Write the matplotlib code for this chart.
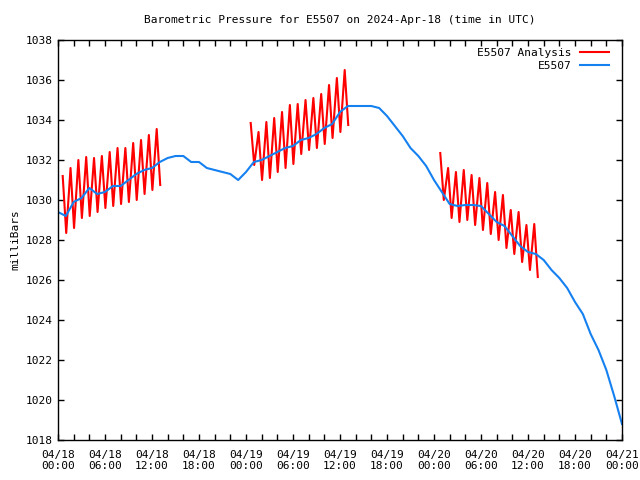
from datetime import datetime, timedelta

import matplotlib
matplotlib.use("Agg")
import matplotlib.pyplot as plt
import matplotlib.dates as mdates

START = datetime(2024, 4, 18, 0, 0)

# observed pressure, hourly from 04/18 00:00 to 04/21 00:00
obs_hours = list(range(73))
obs_values = [
    1029.4, 1029.2, 1029.9, 1030.1, 1030.6, 1030.3, 1030.4, 1030.7, 1030.7, 1031.0,
    1031.3, 1031.5, 1031.6, 1031.9, 1032.1, 1032.2, 1032.2, 1031.9, 1031.9, 1031.6,
    1031.5, 1031.4, 1031.3, 1031.0, 1031.4, 1031.9, 1032.0, 1032.2, 1032.4, 1032.6,
    1032.7, 1033.0, 1033.1, 1033.3, 1033.6, 1033.8, 1034.4, 1034.7, 1034.7, 1034.7,
    1034.7, 1034.6, 1034.2, 1033.7, 1033.2, 1032.6, 1032.2, 1031.7, 1031.0, 1030.4,
    1029.8, 1029.7, 1029.75, 1029.75, 1029.7, 1029.3, 1028.9, 1028.7, 1028.2, 1027.7,
    1027.4, 1027.3, 1027.0, 1026.5, 1026.1, 1025.6, 1024.9, 1024.3, 1023.3, 1022.5,
    1021.5, 1020.2, 1018.8,
]

# analysis runs: start hour, then hourly peaks and troughs
analysis_starts = [0.6, 24.6, 48.8]
analysis_peaks = [
    [1031.2, 1031.6, 1032.0, 1032.15, 1032.1, 1032.2, 1032.4, 1032.6, 1032.6, 1032.85, 1033.0, 1033.25, 1033.55],
    [1033.85, 1033.4, 1033.9, 1034.1, 1034.4, 1034.75, 1034.8, 1035.0, 1035.1, 1035.3, 1035.75, 1036.1, 1036.5],
    [1032.35, 1031.6, 1031.4, 1031.5, 1031.25, 1031.1, 1030.85, 1030.4, 1030.25, 1029.5, 1029.4, 1028.75, 1028.8],
]
analysis_troughs = [
    [1028.35, 1028.6, 1029.1, 1029.2, 1029.4, 1029.6, 1029.7, 1029.8, 1029.9, 1030.0, 1030.3, 1030.5, 1030.75],
    [1031.75, 1031.0, 1031.1, 1031.4, 1031.6, 1031.8, 1032.3, 1032.5, 1032.6, 1032.8, 1033.1, 1033.4, 1033.75],
    [1030.0, 1029.1, 1028.9, 1029.0, 1028.75, 1028.5, 1028.3, 1028.0, 1027.6, 1027.3, 1026.9, 1026.5, 1026.15],
]

RED = "#ff0000"
BLUE = "#1580f0"
FONT = "DejaVu Sans Mono"

plt.rcParams["font.family"] = FONT
plt.rcParams["font.size"] = 8

figure = plt.figure(figsize=(6.4, 4.8), dpi=100)
figure.subplots_adjust(left=58 / 640, right=622 / 640, bottom=1 - 440 / 480, top=1 - 40 / 480)
ax = figure.add_subplot()

for i, t0 in enumerate(analysis_starts):
    times = []
    values = []
    for k, (peak, trough) in enumerate(zip(analysis_peaks[i], analysis_troughs[i])):
        times.append(START + timedelta(hours=t0 + k))
        values.append(peak)
        times.append(START + timedelta(hours=t0 + k + 0.45))
        values.append(trough)
    ax.plot(times, values, color=RED, lw=1.5, label="E5507 Analysis" if i == 0 else None)

obs_times = [START + timedelta(hours=h) for h in obs_hours]
ax.plot(obs_times, obs_values, color=BLUE, lw=1.5, label="E5507")

ax.set_xlim(START, START + timedelta(hours=72))
ax.set_ylim(1018, 1038)
ax.set_yticks(range(1018, 1039, 2))

ax.xaxis.set_major_locator(mdates.HourLocator(byhour=[0, 6, 12, 18]))
ax.xaxis.set_minor_locator(mdates.HourLocator(interval=2))
ax.xaxis.set_major_formatter(mdates.DateFormatter("%m/%d\n%H:%M"))

ax.tick_params(which="both", direction="in", top=True, right=True, length=4, width=1, labelsize=8)
ax.tick_params(axis="x", which="major", pad=7)
for spine in ax.spines.values():
    spine.set_linewidth(1)

ax.set_ylabel("milliBars", fontsize=8)
ax.set_title("Barometric Pressure for E5507 on 2024-Apr-18 (time in UTC)", fontsize=8, pad=12)

ax.legend(loc="upper right", bbox_to_anchor=(0.985, 0.992), frameon=False, fontsize=8,
          markerfirst=False, handlelength=2.6, borderaxespad=0, labelspacing=0.3)

plt.savefig("out.png", dpi=100, facecolor="white")
plt.close()
